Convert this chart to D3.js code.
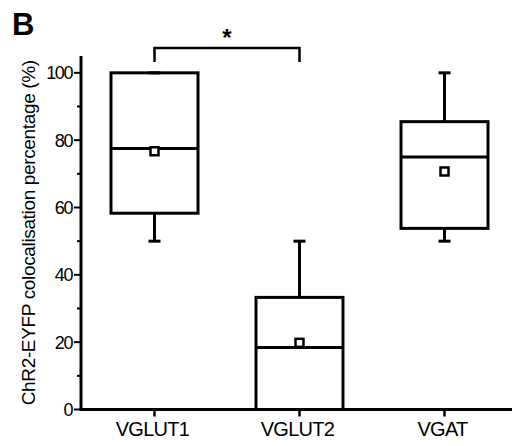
<!DOCTYPE html>
<html>
<head>
<meta charset="utf-8">
<script src="https://cdn.jsdelivr.net/npm/d3@7"></script>
<style>
  body { margin:0; background:#fff; }
  svg { display:block; font-family:"Liberation Sans", Arial, Helvetica, sans-serif; }
</style>
</head>
<body>
<div id="chart"></div>
<script>
/* Box plot: ChR2-EYFP colocalisation by marker (panel B) */

/* ---- data ---- */
const CATEGORIES = ["VGLUT1", "VGLUT2", "VGAT"];
const WHISKER_LO = [50, 0, 50];
const Q1         = [58.3, 0, 53.8];
const MEDIAN     = [77.5, 18.4, 75];
const Q3         = [100, 33.3, 85.5];
const WHISKER_HI = [100, 50, 100];
const MEAN       = [76.7, 19.8, 70.7];
const Y_TICKS    = [0, 20, 40, 60, 80, 100];
const Y_MINOR    = [10, 30, 50, 70, 90];
const SIG_PAIR   = ["VGLUT1", "VGLUT2"];   // "*" bracket

const W = 512, H = 446;
const rows = CATEGORIES.map((c, i) => ({
  cat: c, lo: WHISKER_LO[i], q1: Q1[i], med: MEDIAN[i], q3: Q3[i], hi: WHISKER_HI[i], mean: MEAN[i]
}));

const x = d3.scaleBand().domain(CATEGORIES).range([82, 517]).paddingInner(0.4).paddingOuter(0.2);
const y = d3.scaleLinear().domain([0, 105]).range([409.5, 56]);
const cx = c => x(c) + x.bandwidth() / 2;

const svg = d3.select("#chart").append("svg").attr("width", W).attr("height", H);

// panel letter
svg.append("text").attr("x", 12).attr("y", 35)
  .attr("font-size", 31).attr("font-weight", "bold").text("B");

// y axis
const yAxis = svg.append("g").attr("transform", "translate(81,0)");
yAxis.append("line").attr("x1", 0).attr("x2", 0).attr("y1", y(105)).attr("y2", y(0))
  .attr("stroke", "#000").attr("stroke-width", 3);
yAxis.selectAll("line.major").data(Y_TICKS).enter().append("line").attr("class", "major")
  .attr("x1", -7).attr("x2", 0).attr("y1", d => y(d)).attr("y2", d => y(d))
  .attr("stroke", "#000").attr("stroke-width", 2);
yAxis.selectAll("line.minor").data(Y_MINOR).enter().append("line").attr("class", "minor")
  .attr("x1", -4).attr("x2", 0).attr("y1", d => y(d)).attr("y2", d => y(d))
  .attr("stroke", "#000").attr("stroke-width", 2);
yAxis.selectAll("text").data(Y_TICKS).enter().append("text")
  .attr("x", -9).attr("y", d => y(d)).attr("dy", "0.36em")
  .attr("text-anchor", "end").attr("font-size", 18).attr("letter-spacing", -1.4)
  .text(d => d);

svg.append("text")
  .attr("transform", `translate(35,${(y(105) + y(0)) / 2}) rotate(-90)`)
  .attr("text-anchor", "middle").attr("font-size", 19).attr("letter-spacing", -0.35)
  .text("ChR2-EYFP colocalisation percentage (%)");

// x axis
const xAxis = svg.append("g").attr("transform", `translate(0,${y(0)})`);
xAxis.append("line").attr("x1", 79.5).attr("x2", W).attr("y1", 0).attr("y2", 0)
  .attr("stroke", "#000").attr("stroke-width", 3);
xAxis.selectAll("line.tick").data(CATEGORIES).enter().append("line").attr("class", "tick")
  .attr("x1", d => cx(d)).attr("x2", d => cx(d)).attr("y1", 0).attr("y2", 7)
  .attr("stroke", "#000").attr("stroke-width", 2.5);
xAxis.selectAll("text").data(CATEGORIES).enter().append("text")
  .attr("x", d => cx(d) - 2).attr("y", 26)
  .attr("text-anchor", "middle").attr("font-size", 20).attr("letter-spacing", -0.7)
  .text(d => d);

// boxes
const g = svg.selectAll("g.box").data(rows).enter().append("g").attr("class", "box")
  .attr("fill", "none").attr("stroke", "#000").attr("stroke-width", 3);
const capW = 12;
g.append("line").attr("x1", d => cx(d.cat)).attr("x2", d => cx(d.cat))
  .attr("y1", d => y(d.hi)).attr("y2", d => y(d.q3));
g.append("line").attr("x1", d => cx(d.cat)).attr("x2", d => cx(d.cat))
  .attr("y1", d => y(d.q1)).attr("y2", d => y(d.lo));
g.append("line").attr("x1", d => cx(d.cat) - capW / 2).attr("x2", d => cx(d.cat) + capW / 2)
  .attr("y1", d => y(d.hi)).attr("y2", d => y(d.hi));
g.append("line").attr("x1", d => cx(d.cat) - capW / 2).attr("x2", d => cx(d.cat) + capW / 2)
  .attr("y1", d => y(d.lo)).attr("y2", d => y(d.lo));
g.append("rect").attr("x", d => x(d.cat)).attr("width", x.bandwidth())
  .attr("y", d => y(d.q3)).attr("height", d => y(d.q1) - y(d.q3));
g.append("line").attr("x1", d => x(d.cat)).attr("x2", d => x(d.cat) + x.bandwidth())
  .attr("y1", d => y(d.med)).attr("y2", d => y(d.med));
g.append("rect").attr("fill", "#fff").attr("stroke-width", 2.5)
  .attr("x", d => cx(d.cat) - 4).attr("y", d => y(d.mean) - 4)
  .attr("width", 8).attr("height", 8);

// significance bracket
const by = 48, legY = 62;
const [a, b] = SIG_PAIR.map(cx);
svg.append("path")
  .attr("d", `M${a},${legY}V${by}H${b}V${legY}`)
  .attr("fill", "none").attr("stroke", "#000").attr("stroke-width", 2.5);
svg.append("text").attr("x", (a + b) / 2).attr("y", 46)
  .attr("text-anchor", "middle").attr("font-size", 24).attr("font-weight", "bold").text("*");
</script>
</body>
</html>
